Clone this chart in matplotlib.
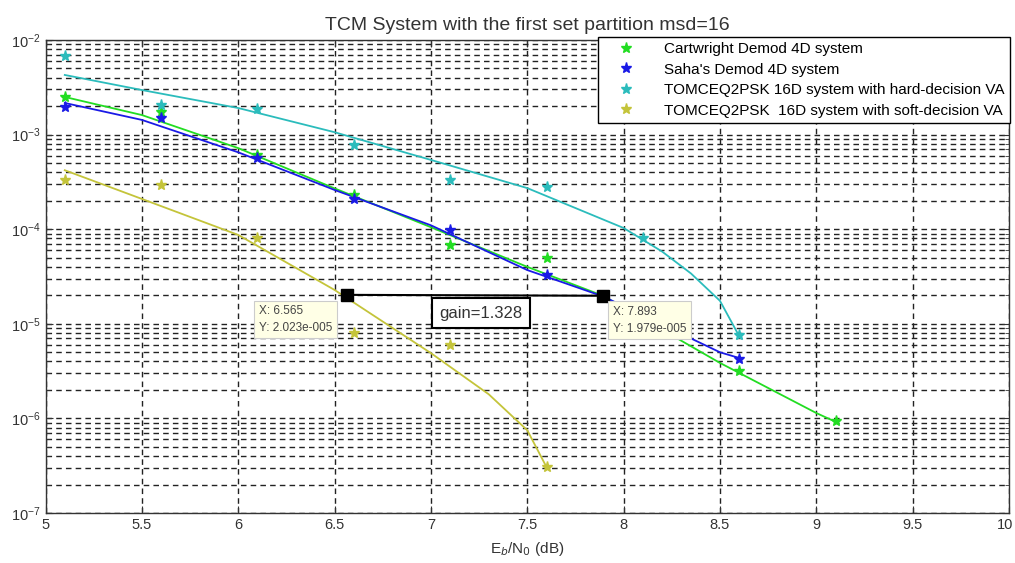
import numpy as np
import matplotlib
matplotlib.use('Agg')
import matplotlib.pyplot as plt
import matplotlib.transforms as mtransforms
from matplotlib.ticker import LogLocator, FixedLocator

plt.rcParams['font.family'] = ['Liberation Sans', 'DejaVu Sans']

# measured points (markers)
ebno = [5.1, 5.6, 6.1, 6.6, 7.1, 7.6, 8.1, 8.6, 9.1]
ber_cartwright = [2.5e-3, 1.74e-3, 6.1e-4, 2.3e-4, 6.8e-5, 5.0e-5, 1.0e-5, 3.2e-6, 9.4e-7]
ebno_saha = [5.1, 5.6, 6.1, 6.6, 7.1, 7.6, 8.1, 8.6]
ber_saha = [1.96e-3, 1.5e-3, 5.6e-4, 2.1e-4, 9.8e-5, 3.3e-5, 1.1e-5, 4.2e-6]
ebno_hard = [5.1, 5.6, 6.1, 6.6, 7.1, 7.6, 8.1, 8.6]
ber_hard = [6.8e-3, 2.06e-3, 1.86e-3, 7.8e-4, 3.3e-4, 2.8e-4, 8.1e-5, 7.6e-6]
ebno_soft = [5.1, 5.6, 6.1, 6.6, 7.1, 7.6]
ber_soft = [3.3e-4, 2.9e-4, 8.1e-5, 7.9e-6, 6.0e-6, 3.1e-7]

# fitted curves
fit_x_cart = [5.1, 5.5, 6.0, 6.5, 7.0, 7.5, 7.893, 8.5, 9.0, 9.1]
fit_y_cart = [2.5e-3, 1.61e-3, 7.2e-4, 2.7e-4, 1.05e-4, 4.0e-5, 1.979e-5, 3.86e-6, 1.14e-6, 9.2e-7]
fit_x_saha = [5.1, 5.5, 6.0, 6.5, 7.0, 7.5, 7.893, 8.5, 8.6]
fit_y_saha = [2.16e-3, 1.43e-3, 6.5e-4, 2.6e-4, 1.1e-4, 3.7e-5, 1.95e-5, 5.0e-6, 4.35e-6]
fit_x_hard = [5.1, 5.5, 6.0, 6.5, 7.0, 7.5, 8.0, 8.2, 8.35, 8.5, 8.6]
fit_y_hard = [4.27e-3, 2.96e-3, 1.91e-3, 1.06e-3, 5.4e-4, 2.72e-4, 1.03e-4, 5.8e-5, 3.4e-5, 1.75e-5, 7.4e-6]
fit_x_soft = [5.1, 5.5, 6.0, 6.5, 7.0, 7.3, 7.5, 7.6]
fit_y_soft = [4.2e-4, 2.09e-4, 8.7e-5, 2.28e-5, 4.9e-6, 1.8e-6, 7.5e-7, 3.06e-7]

tip_x = [6.565, 7.893]
tip_y = [2.023e-5, 1.979e-5]
tip_labels = ['X: 6.565\nY: 2.023e-005', 'X: 7.893\nY: 1.979e-005']
gain_text = 'gain=1.328'

labels = ['Cartwright Demod 4D system',
          "Saha's Demod 4D system",
          'TOMCEQ2PSK 16D system with hard-decision VA',
          'TOMCEQ2PSK  16D system with soft-decision VA']
c_green = '#22dd22'
c_blue = '#1a1ae6'
c_cyan = '#2bbcbc'
c_yel = '#c4c43a'

fig = plt.figure(figsize=(10.15, 5.63), dpi=100)
ax = fig.add_axes([45.5/1015, 1 - 513/563, (1009 - 45.5)/1015, (513 - 40)/563])

ax.set_yscale('log')
ax.set_xlim(5, 10)
ax.set_ylim(1e-7, 1e-2)

# curves
ax.plot(fit_x_cart, fit_y_cart, color=c_green, lw=1.3, zorder=3)
ax.plot(fit_x_saha, fit_y_saha, color=c_blue, lw=1.3, zorder=3)
ax.plot(fit_x_hard, fit_y_hard, color=c_cyan, lw=1.3, zorder=3)
ax.plot(fit_x_soft, fit_y_soft, color=c_yel, lw=1.3, zorder=3)

# markers
ax.plot(ebno, ber_cartwright, ls='none', marker='*', ms=8, color=c_green, label=labels[0], zorder=4)
ax.plot(ebno_saha, ber_saha, ls='none', marker='*', ms=8, color=c_blue, label=labels[1], zorder=4)
ax.plot(ebno_hard, ber_hard, ls='none', marker='*', ms=8, color=c_cyan, label=labels[2], zorder=4)
ax.plot(ebno_soft, ber_soft, ls='none', marker='*', ms=8, color=c_yel, label=labels[3], zorder=4)

# gain line and data tips
ax.plot(tip_x, tip_y, color='black', lw=1.5, marker='s', ms=8, zorder=5)
tip_style = dict(boxstyle='square,pad=0.4', fc='#ffffe6', ec='#cccccc', lw=0.8)
ax.annotate(tip_labels[0], xy=(tip_x[0], tip_y[0]), xytext=(-10.5, -7.5), textcoords='offset points',
            fontsize=8.5, va='top', ha='right', multialignment='left', bbox=tip_style,
            zorder=7, linespacing=1.5, color='#444444')
ax.annotate(tip_labels[1], xy=(tip_x[1], tip_y[1]), xytext=(7, -7.5), textcoords='offset points',
            fontsize=8.5, va='top', ha='left', multialignment='left', bbox=tip_style,
            zorder=7, linespacing=1.5, color='#444444')
ax.text(7.26, 1.285e-5, gain_text, fontsize=12, ha='center', va='center', color='#333333',
        bbox=dict(boxstyle='square,pad=0.45', fc='white', ec='black', lw=1.5), zorder=7)

# MATLAB-like grid
ax.xaxis.set_major_locator(FixedLocator(np.arange(5, 10.01, 0.5)))
ax.set_xticklabels(['5', '5.5', '6', '6.5', '7', '7.5', '8', '8.5', '9', '9.5', '10'])
ax.yaxis.set_major_locator(LogLocator(base=10, numticks=10))
ax.yaxis.set_minor_locator(LogLocator(base=10, subs=np.arange(2, 10), numticks=20))
ax.yaxis.set_minor_formatter(plt.NullFormatter())
ax.grid(True, which='major', axis='both', color='#222222', ls=(0, (4, 3)), lw=1.0)
ax.grid(True, which='minor', axis='y', color='#222222', ls=(0, (4, 3)), lw=1.0)
ax.tick_params(which='both', direction='in', top=True, right=True, labelsize=10.5, colors='#333333')
ax.tick_params(which='major', length=5)
ax.tick_params(which='minor', length=3)
for s in ax.spines.values():
    s.set_color('#333333')
    s.set_linewidth(1.0)

# keep the last x label inside the figure
last = ax.get_xticklabels()[-1]
last.set_transform(last.get_transform() + mtransforms.ScaledTranslation(-4/100, 0, fig.dpi_scale_trans))

ax.set_title('TCM System with the first set partition msd=16', fontsize=14, color='#333333', pad=7)
ax.set_xlabel('E$_b$/N$_0$ (dB)', fontsize=11, color='#333333', labelpad=6)

leg = ax.legend(loc='upper right', bbox_to_anchor=(1010/1015, 1 - 37/563),
                bbox_transform=fig.transFigure, fontsize=11, frameon=True,
                fancybox=False, borderaxespad=0, handletextpad=1.0, labelspacing=0.42,
                borderpad=0.35, handlelength=3.0)
leg.get_frame().set_edgecolor('black')
leg.get_frame().set_linewidth(1.0)
leg.get_frame().set_alpha(1)
leg.set_zorder(8)

fig.savefig('out.png', dpi=100)
